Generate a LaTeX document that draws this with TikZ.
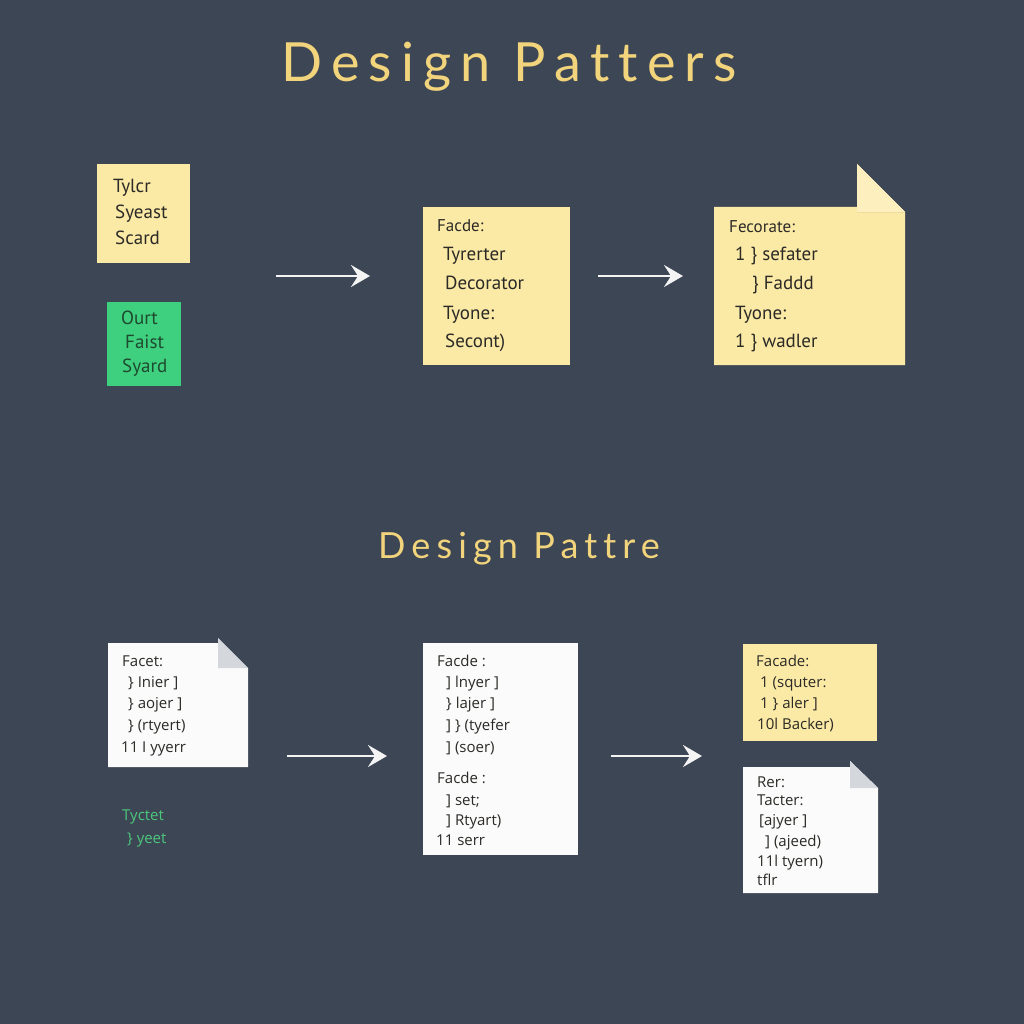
\documentclass[tikz,border=0pt]{standalone}
\usepackage{fontspec}
\setmainfont{Open Sans}
\newfontfamily\titlefont[LetterSpace=17,Ligatures=NoCommon]{Lato}
\newfontfamily\handfont[Ligatures=NoCommon]{PT Sans}
\newfontfamily\plainfont[Ligatures=NoCommon]{Open Sans}
\usetikzlibrary{arrows.meta}
\definecolor{bg}{HTML}{3D4654}
\definecolor{ttl}{HTML}{F2D47C}
\definecolor{ynote}{HTML}{FBE9A6}
\definecolor{yfold}{HTML}{FDF0BE}
\definecolor{gnote}{HTML}{3ECF7F}
\definecolor{gink}{HTML}{1E4A2E}
\definecolor{wnote}{HTML}{FBFBFB}
\definecolor{wfold}{HTML}{D4D7DB}
\definecolor{gtext}{HTML}{4DC77C}
\definecolor{ink}{HTML}{2B2A26}
\definecolor{arrowc}{HTML}{F4F4F4}
\tikzset{
  box/.style={inner sep=0pt, outer sep=0pt, draw=none},
  hand/.style={font=\handfont\fontsize{19}{22}\selectfont, text=ink, anchor=mid west, inner sep=0pt},
  handsm/.style={hand, font=\handfont\fontsize{17}{20}\selectfont},
  plain/.style={font=\plainfont\fontsize{15}{17}\selectfont, text=ink, anchor=mid west, inner sep=0pt},
  arr/.style={draw=arrowc, line width=2.8pt, -{Stealth[length=19pt,width=22pt,inset=7pt]}},
}
\begin{document}
\begin{tikzpicture}[x=1pt,y=-1pt]
\fill[bg] (0,0) rectangle (1024,1024);
\useasboundingbox (0,0) rectangle (1024,1024);

% titles
\node[font=\titlefont\fontsize{54}{60}\selectfont, text=ttl, anchor=base, inner sep=0pt] (title1) at (509,82) {Design Patters};
\node[font=\titlefont\fontsize{36}{40}\selectfont, text=ttl, anchor=base, inner sep=0pt] (title2) at (519,558) {Design Pattre};

% ---------- top row ----------
\node[box, fill=ynote, minimum width=93pt, minimum height=99pt] (b1) at (143.5,213.5) {};
\node[hand] (b1l1) at (113,190) {Tylcr};
\node[hand] (b1l2) at (115,216) {Syeast};
\node[hand] (b1l3) at (115,242) {Scard};

\node[box, fill=gnote, minimum width=74pt, minimum height=84pt] (g1) at (144,344) {};
\node[hand, text=gink] (g1l1) at (121,322) {Ourt};
\node[hand, text=gink] (g1l2) at (125,346) {Faist};
\node[hand, text=gink] (g1l3) at (122,370) {Syard};

\coordinate (a1s) at (276,276);
\coordinate (a1e) at (370,276);
\draw[arr] (a1s) -- (a1e);

\node[box, fill=ynote, minimum width=147pt, minimum height=158pt] (b2) at (496.5,286) {};
\node[handsm] (b2l1) at (437,229) {Facde:};
\node[hand] (b2l2) at (443,258) {Tyrerter};
\node[hand] (b2l3) at (445,287) {Decorator};
\node[hand] (b2l4) at (443,317) {Tyone:};
\node[hand] (b2l5) at (445,345) {Secont)};

\coordinate (a2s) at (598,276);
\coordinate (a2e) at (683,276);
\draw[arr] (a2s) -- (a2e);

% folded yellow note
\fill[ynote] (714,207) -- (857,207) -- (857,164) -- (905,212) -- (905,365) -- (714,365) -- cycle;
\fill[yfold] (857,164) -- (905,212) -- (857,212) -- cycle;
\draw[ynote!85!black, line width=0.8pt, opacity=0.35] (857,212.5) -- (905,212.5);
\node[handsm] (b3l1) at (729,230) {Fecorate:};
\node[hand] (b3l2) at (735,258) {1 \} sefater};
\node[hand] (b3l3) at (752,287) {\} Faddd};
\node[hand] (b3l4) at (735,317) {Tyone:};
\node[hand] (b3l5) at (735,345) {1 \} wadler};

% ---------- bottom row ----------
\fill[wnote] (108,643) -- (218,643) -- (218,638) -- (248,668) -- (248,767) -- (108,767) -- cycle;
\fill[wfold] (218,638) -- (248,668) -- (218,668) -- cycle;
\node[plain] (w1l1) at (122,664) {Facet:};
\node[plain] (w1l2) at (128,685) {\} Inier ]};
\node[plain] (w1l3) at (128,706) {\} aojer ]};
\node[plain] (w1l4) at (128,728) {\} (rtyert)};
\node[plain] (w1l5) at (121,750) {11 I yyerr};

\node[plain, text=gtext] (gt1) at (122,818) {Tyctet};
\node[plain, text=gtext] (gt2) at (127,841) {\} yeet};

\coordinate (a3s) at (287,756);
\coordinate (a3e) at (387,756);
\draw[arr] (a3s) -- (a3e);

\node[box, fill=wnote, minimum width=155pt, minimum height=212pt] (w2) at (500.5,749) {};
\node[plain] (w2l1) at (437,664) {Facde :};
\node[plain] (w2l2) at (446,685) {] lnyer ]};
\node[plain] (w2l3) at (446,706) {\} lajer ]};
\node[plain] (w2l4) at (446,728) {] \} (tyefer};
\node[plain] (w2l5) at (446,750) {] (soer)};
\node[plain] (w2l6) at (437,781) {Facde :};
\node[plain] (w2l7) at (446,803) {] set;};
\node[plain] (w2l8) at (446,823) {] Rtyart)};
\node[plain] (w2l9) at (436,843) {11 serr};

\coordinate (a4s) at (611,756);
\coordinate (a4e) at (702,756);
\draw[arr] (a4s) -- (a4e);

\node[box, fill=ynote, minimum width=134pt, minimum height=97pt] (y4) at (810,692.5) {};
\node[plain] (y4l1) at (756,664) {Facade:};
\node[plain] (y4l2) at (760,685) {1 (squter:};
\node[plain] (y4l3) at (760,706) {1 \} aler ]};
\node[plain] (y4l4) at (757,727) {10l Backer)};

\fill[wnote] (743,767) -- (850,767) -- (850,761) -- (878,788) -- (878,893) -- (743,893) -- cycle;
\fill[wfold] (850,761) -- (878,788) -- (850,788) -- cycle;
\node[plain] (w3l1) at (757,785) {Rer:};
\node[plain] (w3l2) at (757,803) {Tacter:};
\node[plain] (w3l3) at (759,823) {[ajyer ]};
\node[plain] (w3l4) at (765,844) {] (ajeed)};
\node[plain] (w3l5) at (757,864) {11l tyern)};
\node[plain] (w3l6) at (757,883) {tflr};
\end{tikzpicture}
\end{document}
